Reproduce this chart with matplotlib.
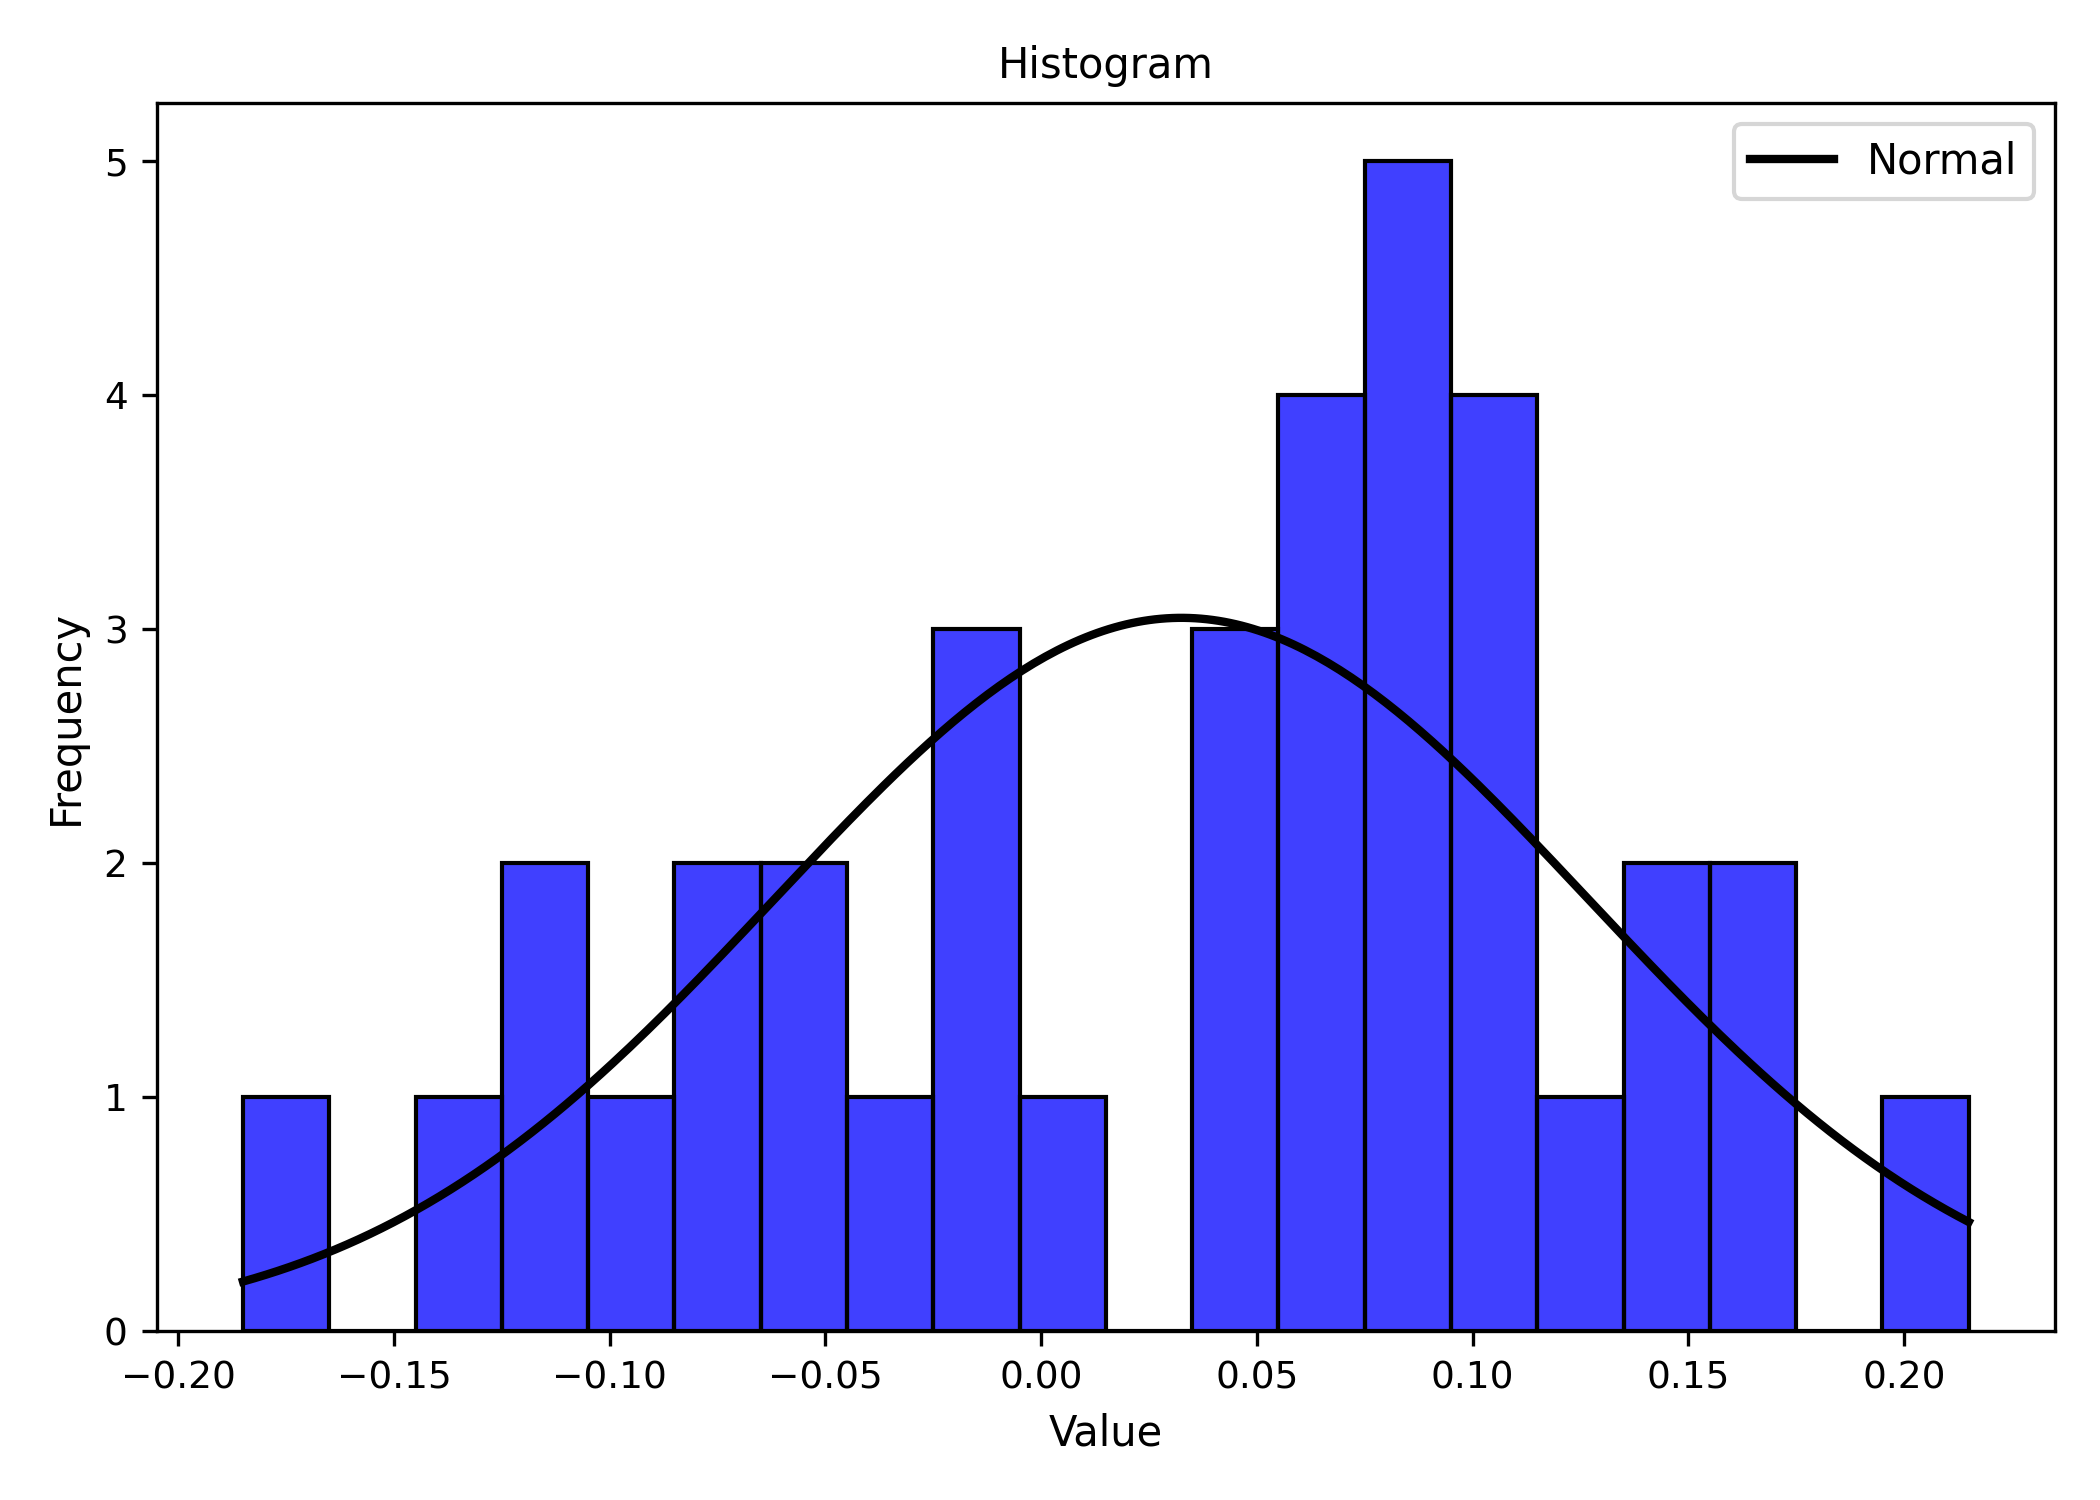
import numpy as np
from matplotlib import pyplot as plt

# histogram bins (width 0.02)
bin_edges = [-0.185, -0.165, -0.145, -0.125, -0.105, -0.085, -0.065, -0.045, -0.025, -0.005,
             0.015, 0.035, 0.055, 0.075, 0.095, 0.115, 0.135, 0.155, 0.175, 0.195, 0.215]
counts = [1, 0, 1, 2, 1, 2, 2, 1, 3, 1, 0, 3, 4, 5, 4, 1, 2, 2, 0, 1]

# fitted normal (estimated)
mu = 0.0325
sigma = 0.0942

edges = np.array(bin_edges)
widths = np.diff(edges)
n_total = sum(counts)

fig, ax = plt.subplots(figsize=(7, 5), dpi=300)
ax.bar(edges[:-1], counts, width=widths, align="edge",
       color="blue", alpha=0.75, edgecolor="none")
ax.bar(edges[:-1], counts, width=widths, align="edge",
       fill=False, edgecolor="black", linewidth=1.0)

x = np.linspace(edges[0], edges[-1], 300)
pdf = n_total * widths[0] / (sigma * np.sqrt(2 * np.pi)) * np.exp(-0.5 * ((x - mu) / sigma) ** 2)
ax.plot(x, pdf, color="black", linewidth=2, label="Normal")

ax.set_title("Histogram", fontsize=10)
ax.set_xlabel("Value")
ax.set_ylabel("Frequency")
ax.tick_params(labelsize=9)
ax.legend()

plt.tight_layout()
plt.savefig("out.png")
plt.close()
